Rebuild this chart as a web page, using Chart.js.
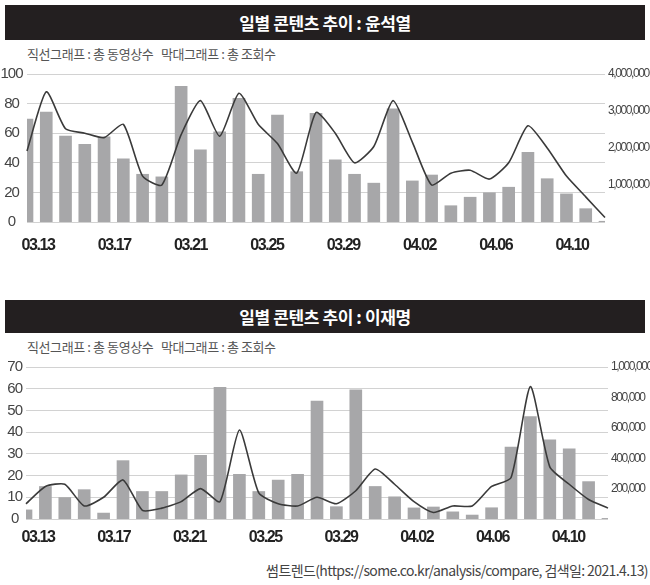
<!DOCTYPE html>
<html><head><meta charset="utf-8">
<script src="https://cdn.jsdelivr.net/npm/chart.js@4.4.1/dist/chart.umd.min.js"></script>
<style>
html,body{margin:0;padding:0;background:#fff}
body{width:650px;height:585px;position:relative;overflow:hidden;font-family:'Noto Sans CJK KR','Noto Sans',sans-serif}
.hdr{position:absolute;left:5px;width:640px;background:#231f20;color:#fff;font-weight:bold;font-size:17px;text-align:center;letter-spacing:-0.4px}
.sub{position:absolute;left:27px;font-size:13px;line-height:15px;color:#555;letter-spacing:-0.4px;white-space:pre}
.src{position:absolute;right:2px;top:562px;font-size:14px;line-height:16px;color:#444;letter-spacing:-0.6px;white-space:nowrap}
canvas{position:absolute;left:0}
</style>
</head><body>
<div class="hdr" style="top:5px;height:35px;line-height:35px">일별 콘텐츠 추이 : 윤석열</div>
<div class="sub" style="top:46px">직선그래프 : 총 동영상수   막대그래프 : 총 조회수</div>
<canvas id="c1" width="650" height="190" style="top:62px;width:650px;height:190px"></canvas>
<div class="hdr" style="top:300px;height:33px;line-height:33px">일별 콘텐츠 추이 : 이재명</div>
<div class="sub" style="top:339px">직선그래프 : 총 동영상수   막대그래프 : 총 조회수</div>
<canvas id="c2" width="650" height="194" style="top:355px;width:650px;height:194px"></canvas>
<div class="src">썸트렌드(https://some.co.kr/analysis/compare, 검색일: 2021.4.13)</div>
<script>
// Dates 03.13 ~ 04.12
const dates = ['03.13','03.14','03.15','03.16','03.17','03.18','03.19','03.20','03.21','03.22','03.23','03.24','03.25','03.26','03.27','03.28','03.29','03.30','03.31','04.01','04.02','04.03','04.04','04.05','04.06','04.07','04.08','04.09','04.10','04.11','04.12'];
const tickLabels = ['03.13','03.17','03.21','03.25','03.29','04.02','04.06','04.10'];

// 윤석열: 총 조회수 (bars, right axis) / 총 동영상수 (line, left axis)
const yoonViews = [2780000,2970000,2320000,2100000,2300000,1710000,1290000,1220000,3670000,1950000,2440000,3340000,1290000,2890000,1360000,2940000,1680000,1290000,1050000,3060000,1110000,1270000,440000,670000,790000,940000,1880000,1170000,760000,360000,20000];
const yoonVideos = [48,88,63,60,57,66,31,25,59,82,58,87,66,53,33,74,60,40,51,82,54,25,33,35,29,40,65,50,31,17,3];

// 이재명
const leeViews = [60000,214000,141000,193000,39000,384000,181000,181000,290000,419000,867000,294000,181000,256000,294000,776000,81000,850000,214000,146000,73000,79000,47000,26000,74000,473000,673000,521000,461000,246000,4000];
const leeVideos = [7,15,16,6,10,18,4,5,8,14,8,41,12,7,6,10,7,13,23,16,8,3,6,6,15,19,61,24,16,9,5];

const BAR = '#a7a7a9', LINE = '#3a3a3a', GRID = '#d2d2d2';
const SPACING = {xl:'-1.4px', y:'-1px', y1:'-1.4px'};

const tightLabels = {
  id:'tightLabels',
  beforeDraw(chart){
    Object.values(chart.scales).forEach(s=>{
      if (s._tightWrapped) return;
      const orig = s.drawLabels;
      s.drawLabels = function(area){
        const ctx = this.ctx;
        const prev = ctx.letterSpacing;
        ctx.letterSpacing = SPACING[this.id] || '0px';
        orig.call(this, area);
        ctx.letterSpacing = prev || '0px';
      };
      s._tightWrapped = true;
    });
  }
};

function makeChart(id, views, videos, cfg) {
  new Chart(document.getElementById(id), {
    data: {
      labels: dates,
      datasets: [
        {type:'line', data: videos, yAxisID:'y', xAxisID:'x', borderColor: LINE, borderWidth:1.6, pointRadius:0, tension:0.2, order:0, clip:2},
        {type:'bar', data: views, yAxisID:'y1', xAxisID:'x', backgroundColor: BAR, barThickness:12, order:1, clip:0}
      ]
    },
    plugins:[tightLabels],
    options: {
      responsive:false, animation:false,
      layout:{padding:{top:8,left:0,right:0,bottom:0}},
      plugins:{legend:{display:false}, tooltip:{enabled:false}},
      scales:{
        x:{type:'category', display:false, offset:false},
        xl:{type:'linear', position:'bottom', min:cfg.lmin, max:cfg.lmax,
          grid:{display:false}, border:{display:false},
          ticks:{stepSize:1, includeBounds:false, autoSkip:false, maxRotation:0, padding:cfg.xpad, color:'#222',
            font:{family:"'Liberation Sans',Arial,sans-serif", size:16, weight:'bold'},
            callback:(v)=> Number.isInteger(v) && tickLabels[v] ? tickLabels[v] : ''},
          afterFit:(s)=>{s.height=30;}},
        y:{position:'left', min:0, max:cfg.lmax2,
          grid:{color:GRID, lineWidth:1, drawTicks:false}, border:{display:false},
          ticks:{stepSize:cfg.lstep, padding:3, crossAlign:'center', color:'#444',
            font:{family:"'Liberation Sans',Arial,sans-serif", size:15}},
          afterFit:(s)=>{s.width=cfg.lw;}},
        y1:{position:'right', min:0, max:cfg.rmax,
          grid:{display:false, drawTicks:false}, border:{display:false},
          ticks:{stepSize:cfg.rstep, padding:3, color:'#444',
            font:{family:"'Liberation Sans',Arial,sans-serif", size:12},
            callback:(v)=> v===0 ? '' : v.toLocaleString('en-US')},
          afterFit:(s)=>{s.width=cfg.rw;}}
      }
    }
  });
}

makeChart('c1', yoonViews, yoonVideos, {lw:27, rw:45, lmax2:100, lstep:20, rmax:4000000, rstep:1000000, lmin:-0.144, lmax:7.432, xpad:6});
makeChart('c2', leeViews, leeVideos, {lw:26, rw:42, lmax2:70, lstep:10, rmax:1000000, rstep:200000, lmin:-0.158, lmax:7.524, xpad:1});
</script>
</body></html>
